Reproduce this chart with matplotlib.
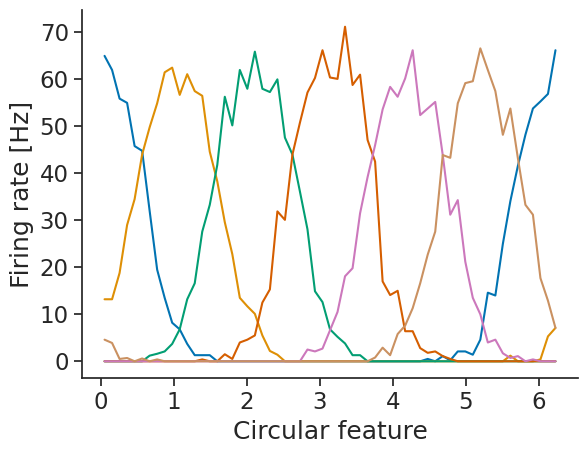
import numpy as np
import matplotlib
matplotlib.use("Agg")
import matplotlib.pyplot as plt
import seaborn as sns

# tuning curves of 6 cells, 61 bins over the circular feature
n_bins = 61
feature = (np.arange(n_bins) + 0.5) * 2 * np.pi / n_bins

cell_0 = [65.0, 62.0, 55.9, 55.0, 45.8, 44.8, 32.0, 19.5, 13.5, 8.2,
          6.8, 3.7, 1.3, 1.3, 1.3, 0, 0, 0, 0, 0,
          0, 0, 0, 0, 0, 0, 0, 0, 0, 0,
          0, 0, 0, 0, 0, 0, 0, 0, 0, 0,
          0, 0, 0, 0.5, 0, 1.1, 0.2, 2.1, 2.1, 1.4,
          4.6, 14.6, 14.0, 25.0, 34.1, 41.6, 48.2, 53.8, 55.3, 56.9,
          66.2]
cell_1 = [13.2, 13.2, 18.8, 29.0, 34.5, 44.0, 49.8, 54.9, 61.5, 62.5,
          56.7, 61.1, 57.5, 56.5, 44.6, 38.3, 29.6, 22.8, 13.5, 11.7,
          10.1, 5.5, 2.2, 1.4, 0, 0, 0, 0, 0, 0,
          0, 0, 0, 0, 0, 0, 0, 0, 0, 0,
          0, 0, 0, 0, 0, 0, 0, 0, 0, 0,
          0, 0, 0, 0, 1.2, 0, 0, 0, 0.4, 5.3,
          7.1]
cell_2 = [0, 0, 0, 0, 0, 0, 1.2, 1.6, 2.1, 3.7,
          6.8, 13.2, 16.6, 27.6, 33.3, 41.8, 56.3, 50.2, 62.0, 58.0,
          65.9, 58.0, 57.3, 60.0, 47.6, 44.0, 36.1, 28.1, 14.9, 12.6,
          6.8, 5.2, 3.8, 1.3, 1.3, 0, 0, 0, 0, 0,
          0, 0, 0, 0, 0, 0, 0, 0, 0, 0,
          0, 0, 0, 0, 0, 0, 0, 0, 0, 0,
          0]
cell_3 = [0, 0, 0, 0, 0, 0, 0, 0, 0, 0,
          0, 0, 0, 0.4, 0, 0, 1.5, 0.5, 4.0, 4.6,
          5.5, 12.5, 15.3, 31.9, 30.1, 44.0, 50.8, 57.2, 60.3, 66.2,
          60.4, 60.1, 71.2, 58.8, 61.0, 47.1, 42.5, 17.0, 14.1, 15.0,
          6.4, 6.4, 2.8, 1.8, 2.1, 1.1, 0.5, 0, 0, 0,
          0, 0, 0, 0, 0, 0, 0, 0, 0, 0,
          0]
cell_4 = [0, 0, 0, 0, 0, 0, 0, 0, 0, 0,
          0, 0, 0, 0, 0, 0, 0, 0, 0, 0,
          0, 0, 0, 0, 0, 0, 0, 2.5, 2.1, 2.7,
          6.6, 10.5, 18.1, 19.8, 31.5, 39.2, 46.0, 53.6, 58.4, 56.3,
          60.2, 66.2, 52.4, 53.8, 55.2, 43.9, 31.2, 34.3, 21.2, 13.5,
          10.0, 4.0, 4.6, 1.7, 0.7, 1.1, 0, 0.4, 0, 0,
          0]
cell_5 = [4.6, 3.9, 0.5, 0.7, 0, 0.6, 0, 0.4, 0, 0,
          0, 0, 0, 0, 0, 0, 0, 0, 0, 0,
          0, 0, 0, 0, 0, 0, 0, 0, 0, 0,
          0, 0, 0, 0, 0, 0, 0.8, 2.9, 1.3, 5.8,
          7.6, 11.3, 16.6, 22.7, 27.6, 43.9, 43.3, 54.9, 59.2, 59.6,
          66.6, 62.0, 57.5, 48.2, 53.8, 43.2, 33.3, 31.2, 17.7, 12.9,
          7.1]

cells = [cell_0, cell_1, cell_2, cell_3, cell_4, cell_5]


def main():
  sns.set_theme(style="ticks", font_scale=1.5, palette="colorblind")

  fig = plt.figure(figsize=(5.87, 4.55), dpi=100)
  ax = fig.add_axes([0.1397, 0.1692, 0.845, 0.8088])

  for rates in cells:
    ax.plot(feature, rates, lw=1.5)

  ax.set_xlabel("Circular feature")
  ax.set_ylabel("Firing rate [Hz]")
  ax.set_yticks(np.arange(0, 80, 10))
  sns.despine(ax=ax)

  fig.savefig("out.png", dpi=100)


if __name__ == "__main__":
  main()
